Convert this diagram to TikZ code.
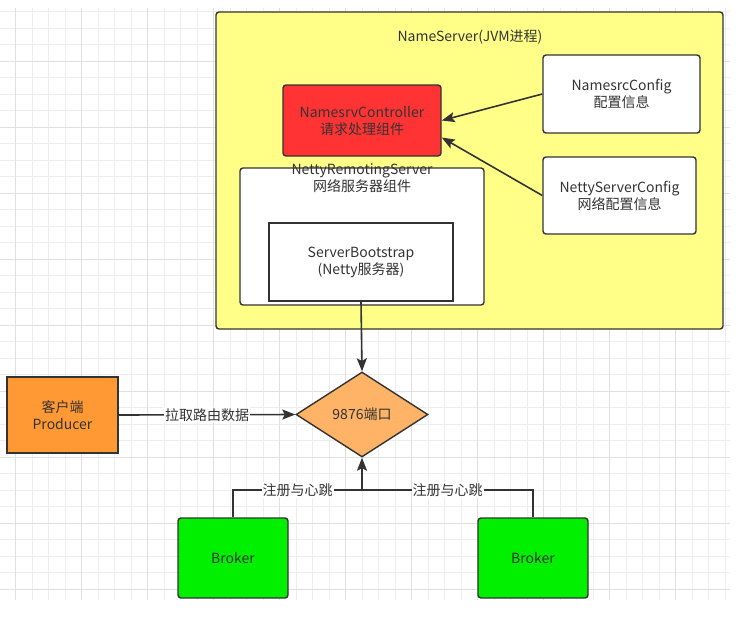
\documentclass[tikz,border=0pt]{standalone}
\usepackage{fontspec}
\setmainfont{Noto Sans CJK SC}
\usepackage{tikz}
\usetikzlibrary{calc,shapes.geometric,arrows.meta}

\definecolor{minorgrid}{HTML}{EDEDED}
\definecolor{majorgrid}{HTML}{E0E0E0}
\definecolor{linegray}{HTML}{333333}
\definecolor{textgray}{HTML}{333333}
\definecolor{jvmyellow}{HTML}{FFFF88}
\definecolor{ctrlred}{HTML}{FF3333}
\definecolor{prodorange}{HTML}{FF9933}
\definecolor{portorange}{HTML}{FFB366}
\definecolor{brokergreen}{HTML}{00F000}

\tikzset{
  box/.style={draw=linegray, line width=1.4pt, rounded corners=3pt, align=center,
              text=textgray, inner sep=2pt},
  conn/.style={draw=linegray, line width=1.6pt},
  tip/.style={-{Stealth[length=13pt,width=10pt,inset=2.5pt]}},
  lbl/.style={fill=white, text=textgray, inner sep=1pt}
}

\begin{document}
\begin{tikzpicture}[x=1pt,y=-1pt,font=\fontsize{14}{17}\selectfont]
  \useasboundingbox (0,0) rectangle (739,638);
  \fill[white] (0,0) rectangle (739,638);

  %% Background grid
  \foreach \k in {0,1,...,44}
    \draw[minorgrid,line width=0.8pt] ({-0.8+16.5*\k},8) -- ({-0.8+16.5*\k},600);
  \foreach \k in {0,1,...,35}
    \draw[minorgrid,line width=0.8pt] (0,{11.8+16.5*\k}) -- (730,{11.8+16.5*\k});
  \foreach \k in {1,5,...,41}
    \draw[majorgrid,line width=1pt] ({-0.8+16.5*\k},8) -- ({-0.8+16.5*\k},600);
  \foreach \k in {3,7,...,35}
    \draw[majorgrid,line width=1pt] (0,{11.8+16.5*\k}) -- (730,{11.8+16.5*\k});

  %% NameServer process
  \node[box, fill=jvmyellow, minimum width=507, minimum height=317] (jvm) at (469.5,170.5) {};
  \node[text=textgray] (jvmtitle) at (470,37) {NameServer(JVM进程)};

  \node[box, fill=ctrlred, minimum width=158, minimum height=71] (ctrl) at (362,120.5)
    {NamesrvController\\请求处理组件};
  \node[box, fill=white, minimum width=157, minimum height=78] (nsconf) at (621.5,94)
    {NamesrcConfig\\配置信息};
  \node[box, fill=white, minimum width=153, minimum height=77] (nettyconf) at (619.5,195.5)
    {NettyServerConfig\\网络配置信息};

  \node[box, fill=white, minimum width=244, minimum height=137] (remoting) at (362,236.5) {};
  \node[text=textgray, align=center] (remotingtitle) at (362,178)
    {NettyRemotingServer\\网络服务器组件};
  \node[box, fill=white, rounded corners=0pt, minimum width=184, minimum height=78] (bootstrap) at (361,262)
    {ServerBootstrap\\(Netty服务器)};

  %% Port, client and brokers
  \node[box, diamond, fill=portorange, rounded corners=0pt, inner sep=0pt, aspect=1.55,
        minimum width=132, minimum height=85] (port) at (362,414.5) {9876端口};
  \node[box, fill=prodorange, rounded corners=0pt, minimum width=111, minimum height=76] (producer) at (62.5,415)
    {客户端\\Producer};
  \node[box, fill=brokergreen, minimum width=110, minimum height=80] (broker1) at (233,558) {Broker};
  \node[box, fill=brokergreen, minimum width=110, minimum height=80] (broker2) at (533,558) {Broker};
  \coordinate (hb) at (362,490);

  %% Connectors
  \draw[conn,tip] (nsconf.west) -- ($(ctrl.east)+(0,0)$);
  \draw[conn,tip] (nettyconf.west) -- ($(ctrl.east)+(0,17)$);
  \draw[conn,tip] (bootstrap.south) -- (port.north);
  \draw[conn,tip] (producer.east) -- node[lbl] {拉取路由数据} (port.west);
  \draw[conn] (broker1.north) |- node[lbl,pos=0.75] {注册与心跳} (hb);
  \draw[conn] (broker2.north) |- node[lbl,pos=0.75] {注册与心跳} (hb);
  \draw[conn,tip] (hb) -- (port.south);
\end{tikzpicture}
\end{document}
